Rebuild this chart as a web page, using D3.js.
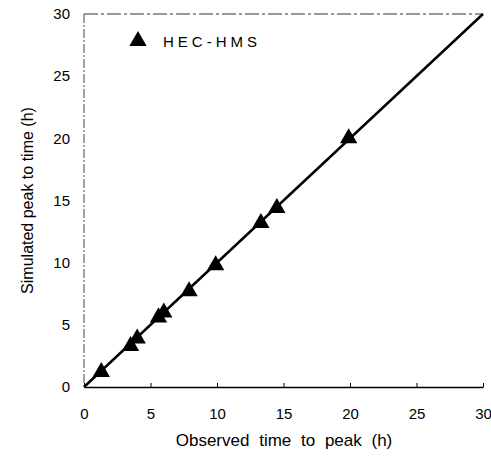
<!DOCTYPE html>
<html>
<head>
<meta charset="utf-8">
<script src="https://cdn.jsdelivr.net/npm/d3@7"></script>
<style>
  body { margin: 0; background: #fff; }
  text { font-family: "Liberation Sans", Arial, sans-serif; fill: #000; }
</style>
</head>
<body>
<div class="chart"></div>
<script>
// observed vs simulated time to peak (h)
var observed  = [1.3, 3.5, 4.0, 5.6, 6.0, 7.9, 9.9, 13.3, 14.5, 19.9];
var simulated = [1.2, 3.3, 3.9, 5.6, 6.0, 7.7, 9.8, 13.2, 14.4, 20.0];
var lineX = [0, 30];
var lineY = [0, 30];
var xTicks = [0, 5, 10, 15, 20, 25, 30];
var yTicks = [0, 5, 10, 15, 20, 25, 30];
var seriesName = "HEC-HMS";

var W = 491, H = 456;
// plot box (note: "top" is reserved on window, so use pX names)
var pLeft = 84, pRight = 483, pTop = 14, pBottom = 387;

var svg = d3.select(".chart").append("svg")
    .attr("width", W)
    .attr("height", H);

var x = d3.scaleLinear().domain([0, 30]).range([pLeft, pRight]);
var y = d3.scaleLinear().domain([0, 30]).range([pBottom, pTop]);

// frame: left and top faint dashed, bottom solid
svg.append("line")
    .attr("x1", pLeft).attr("x2", pLeft)
    .attr("y1", pTop).attr("y2", pBottom)
    .attr("stroke", "#444").attr("stroke-width", 1)
    .attr("stroke-dasharray", "9,2,2,2");
svg.append("line")
    .attr("x1", pLeft).attr("x2", pRight)
    .attr("y1", pTop).attr("y2", pTop)
    .attr("stroke", "#333").attr("stroke-width", 1)
    .attr("stroke-dasharray", "14,3,3,3");

var xAxis = svg.append("g")
    .attr("transform", "translate(0," + pBottom + ")")
    .call(d3.axisBottom(x).tickValues(xTicks).tickSizeInner(-4).tickSizeOuter(0).tickPadding(21));
xAxis.select(".domain").attr("stroke", "#000").attr("stroke-width", 1.3);
xAxis.selectAll("text").style("font-size", "15px").attr("font-family", "Liberation Sans, Arial, sans-serif");

var yAxis = svg.append("g")
    .attr("transform", "translate(" + pLeft + ",0)")
    .call(d3.axisLeft(y).tickValues(yTicks).tickSize(0).tickPadding(14));
yAxis.select(".domain").remove();
yAxis.selectAll("text").style("font-size", "15px").attr("font-family", "Liberation Sans, Arial, sans-serif");

// 1:1 line
var line = d3.line()
    .x(function (d) { return x(d[0]); })
    .y(function (d) { return y(d[1]); });
svg.append("path")
    .datum(d3.zip(lineX, lineY))
    .attr("d", line)
    .attr("fill", "none")
    .attr("stroke", "#000")
    .attr("stroke-width", 2.5);

var tri = d3.symbol().type(d3.symbolTriangle).size(130);

svg.selectAll(".pt")
    .data(d3.zip(observed, simulated))
    .enter()
    .append("path")
    .attr("class", "pt")
    .attr("d", tri)
    .attr("transform", function (d) { return "translate(" + x(d[0]) + "," + y(d[1]) + ")"; })
    .attr("fill", "#000");

// legend
svg.append("path")
    .attr("d", tri)
    .attr("transform", "translate(138,41)")
    .attr("fill", "#000");
svg.append("text")
    .attr("x", 163)
    .attr("y", 47)
    .style("font-size", "15px")
    .style("letter-spacing", "4px")
    .text(seriesName);

// axis titles
svg.append("text")
    .attr("x", 284)
    .attr("y", 446)
    .attr("text-anchor", "middle")
    .style("font-size", "17px")
    .style("word-spacing", "5px")
    .text("Observed time to peak (h)");

svg.append("text")
    .attr("transform", "translate(33," + ((pTop + pBottom) / 2) + ") rotate(-90)")
    .attr("text-anchor", "middle")
    .style("font-size", "16px")
    .text("Simulated peak to time (h)");
</script>
</body>
</html>
